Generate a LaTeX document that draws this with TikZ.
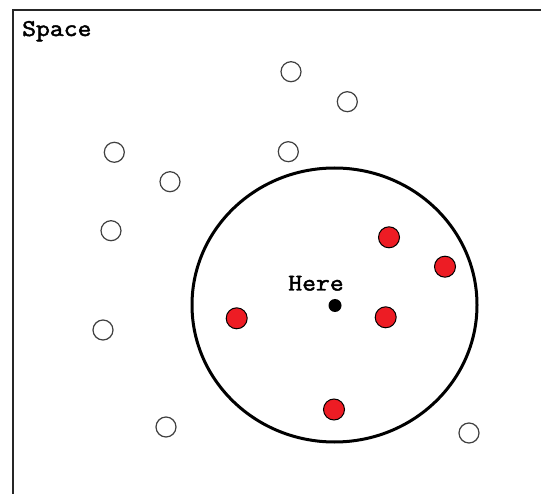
\documentclass[tikz,border=0pt]{standalone}
\usepackage{fontspec}
\newfontfamily\monob{Latin Modern Mono}[FakeBold=2]
\definecolor{dotred}{HTML}{ED1C24}
\tikzset{
  emptydot/.style={circle,draw=black!75,line width=1.2pt,fill=white,minimum size=20pt,inner sep=0pt},
  reddot/.style={circle,draw=black,line width=1pt,fill=dotred,minimum size=21pt,inner sep=0pt},
  labeltext/.style={font=\monob\fontsize{24}{24}\selectfont,inner sep=0pt}
}
\newcommand{\widetxt}[1]{\scalebox{1.12}[1]{#1}}
\begin{document}
\begin{tikzpicture}[x=1pt,y=-1pt]
\useasboundingbox (0,0) rectangle (541,494);
\fill[white] (0,0) rectangle (541,494);
\draw[line width=1.6pt,black!85] (13,494) -- (13,10) -- (541,10);
\node[labeltext,anchor=base west] (space) at (22,36) {\widetxt{Space}};
\draw[line width=3pt] (334.5,305) ellipse [x radius=142.5, y radius=137];
\node[circle,fill=black,minimum size=13pt,inner sep=0pt] (here) at (335,305.5) {};
\node[labeltext,anchor=base] (herelabel) at (316,290.5) {\widetxt{Here}};
\node[reddot] (r1) at (389,237.3) {};
\node[reddot] (r2) at (445,266.7) {};
\node[reddot] (r3) at (236.7,318.3) {};
\node[reddot] (r4) at (385.7,317.3) {};
\node[reddot] (r5) at (334,409.5) {};
\node[emptydot] (w1) at (291,71.7) {};
\node[emptydot] (w2) at (347.3,101.7) {};
\node[emptydot] (w3) at (114.3,152.3) {};
\node[emptydot] (w4) at (170,181.7) {};
\node[emptydot] (w5) at (288.3,151.7) {};
\node[emptydot] (w6) at (111,230.7) {};
\node[emptydot] (w7) at (103,330) {};
\node[emptydot] (w8) at (166,427) {};
\node[emptydot] (w9) at (469,433) {};
\end{tikzpicture}
\end{document}
